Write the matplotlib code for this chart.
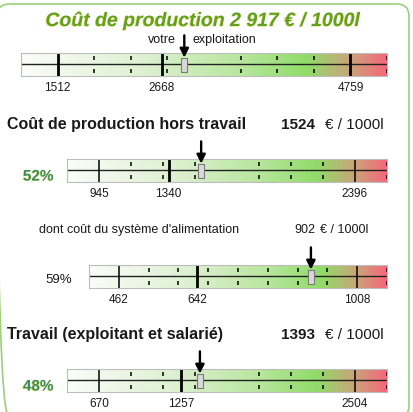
import numpy as np
import matplotlib
matplotlib.use("Agg")
import matplotlib.pyplot as plt
from matplotlib.colors import LinearSegmentedColormap
from matplotlib.patches import FancyBboxPatch
import matplotlib.patheffects as pe

plt.rcParams['font.family'] = ['Liberation Sans', 'DejaVu Sans']

# data
titles = ["Coût de production", "Coût de production hors travail",
          "dont coût du système d'alimentation", "Travail (exploitant et salarié)"]
values = [2917, 1524, 902, 1393]
q1 = [1512, 945, 462, 670]
med = [2668, 1340, 642, 1257]
q3 = [4759, 2396, 1008, 2504]
shares = ["", "52%", "59%", "48%"]
unit = "€ / 1000l"

W, H = 414, 412
fig = plt.figure(figsize=(W / 100, H / 100), dpi=100)

def fx(x):
    return x / W

def fy(y):
    return 1 - y / H

# green rounded frame
frame = FancyBboxPatch((fx(-3), fy(418)), fx(412), (418 - 4) / H,
                       boxstyle="round,pad=0,rounding_size=0.03",
                       transform=fig.transFigure, fill=False,
                       ec='#9dce7c', lw=1.2)
fig.patches.append(frame)

cmap = LinearSegmentedColormap.from_list("gauge", [
    (0.0, '#fbfdf9'), (0.35, '#dcf0cf'), (0.6, '#b8e69e'),
    (0.78, '#90dc68'), (0.9, '#cba47a'), (1.0, '#f7667a')])
grad = np.linspace(0, 1, 256).reshape(1, -1)

# gauge boxes in pixels: left, top, right, bottom
boxes = [(21, 53, 387, 76), (67, 159, 387, 182), (89, 265, 387, 288), (67, 369, 387, 392)]
teal = '#3d8c5c'
shadow = [pe.withSimplePatchShadow(offset=(-0.6, -0.4), shadow_rgbFace='#d8d84a', alpha=0.9)]

for i in range(4):
    l, t, r, b = boxes[i]
    ax = fig.add_axes([fx(l), fy(b), (r - l) / W, (b - t) / H])
    d = (q3[i] - q1[i]) / 8
    lo, hi = q1[i] - d, q3[i] + d
    ax.imshow(grad, extent=[lo, hi, 0, 1], aspect='auto', cmap=cmap, zorder=0)
    ax.set_xlim(lo, hi)
    ax.set_ylim(0, 1)
    ax.set_yticks([])
    for s in ax.spines.values():
        s.set_color('#bdbdbd')
        s.set_linewidth(0.8)
    ax.axhline(0.53, color='#222222', lw=1.0)
    ks = [0, 2, 3, 4, 5, 6, 7, 8, 10]
    if i != 2:
        ks.remove(5)
    xs = [lo + k * d for k in ks]
    ax.vlines(xs, 0.7, 0.88, color='black', lw=1.1)
    ax.vlines(xs, 0.12, 0.3, color='black', lw=1.1)
    lw_q = 2.0 if i == 0 else 1.1
    ax.axvline(q1[i], color='black', lw=lw_q)
    ax.axvline(med[i], color='black', lw=2.0)
    ax.axvline(q3[i], color='black', lw=lw_q)
    ax.plot(values[i], 0.5, marker=[(-3, -7), (3, -7), (3, 7), (-3, 7), (-3, -7)],
            ms=10.5, mfc='#d9d9d9', mec='#7a7a7a', mew=0.8, zorder=5)
    ax.annotate('', xy=(values[i], 0.8), xytext=(0, 16), textcoords='offset points',
                arrowprops=dict(arrowstyle='-|>', color='black', lw=1.7,
                                mutation_scale=13, shrinkA=0, shrinkB=0),
                annotation_clip=False)
    ax.set_xticks([q1[i], med[i], q3[i]])
    ax.set_xticklabels([str(q1[i]), str(med[i]), str(q3[i])], fontsize=8.5, color='#1a1a1a')
    ax.tick_params(axis='x', length=0, pad=4)

# texts
fig.text(fx(203), fy(26), "%s %s %s" % (titles[0], "2 917", unit), ha='center', va='baseline',
         fontsize=14, fontweight='bold', fontstyle='italic', color='#62a024',
         path_effects=shadow)
fig.text(fx(176), fy(43), "votre", ha='right', va='baseline', fontsize=9, color='#1a1a1a')
fig.text(fx(193), fy(43), "exploitation", ha='left', va='baseline', fontsize=9, color='#1a1a1a')

fig.text(fx(7), fy(129), titles[1], ha='left', va='baseline', fontsize=11.5, fontweight='bold', color='#1a1a1a')
fig.text(fx(315), fy(129), str(values[1]), ha='right', va='baseline', fontsize=11, fontweight='bold', color='#1a1a1a')
fig.text(fx(325), fy(129), unit, ha='left', va='baseline', fontsize=11, color='#1a1a1a')
fig.text(fx(23), fy(180.5), shares[1], ha='left', va='baseline', fontsize=11, fontweight='bold', color=teal, path_effects=shadow)

fig.text(fx(39), fy(233), titles[2], ha='left', va='baseline', fontsize=9, color='#1a1a1a')
fig.text(fx(315), fy(233), str(values[2]), ha='right', va='baseline', fontsize=9, color='#1a1a1a')
fig.text(fx(320), fy(233), unit, ha='left', va='baseline', fontsize=9, color='#1a1a1a')
fig.text(fx(45), fy(283), shares[2], ha='left', va='baseline', fontsize=9.5, color='#1a1a1a')

fig.text(fx(7), fy(339), titles[3], ha='left', va='baseline', fontsize=11.5, fontweight='bold', color='#1a1a1a')
fig.text(fx(315), fy(339), str(values[3]), ha='right', va='baseline', fontsize=11, fontweight='bold', color='#1a1a1a')
fig.text(fx(325), fy(339), unit, ha='left', va='baseline', fontsize=11, color='#1a1a1a')
fig.text(fx(23), fy(390.5), shares[3], ha='left', va='baseline', fontsize=11, fontweight='bold', color=teal, path_effects=shadow)

fig.savefig("out.png", dpi=100)
